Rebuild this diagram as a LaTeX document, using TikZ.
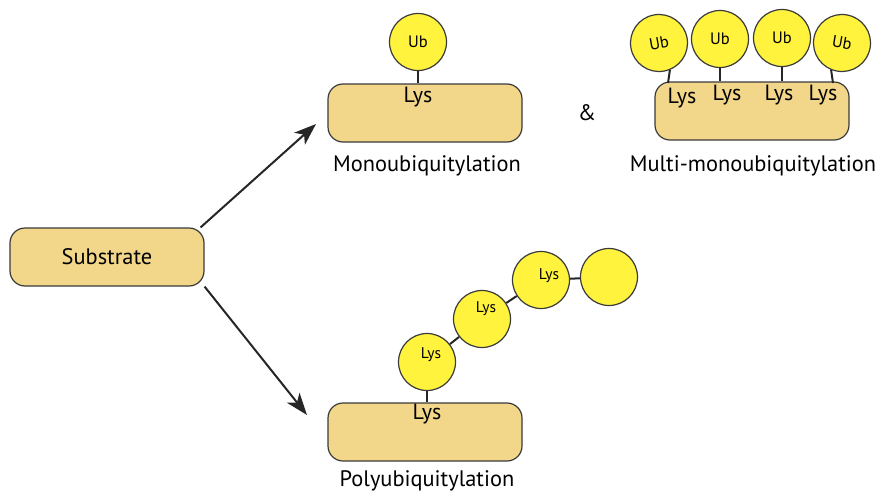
\documentclass[tikz,border=0pt]{standalone}
\usepackage{fontspec}
\setmainfont{PT Sans}
\usetikzlibrary{shapes,arrows.meta}
\definecolor{boxfill}{HTML}{F2D68A}
\definecolor{ubfill}{HTML}{FFF33D}
\definecolor{rim}{HTML}{3A3A3A}

\begin{document}
\begin{tikzpicture}[x=1pt,y=-1pt,
  box/.style={shape=rectangle,rounded corners=15pt,draw=rim,fill=boxfill,line width=1.2pt,minimum width=194pt,minimum height=58pt,inner sep=0pt,font=\fontsize{22.4}{26}\selectfont},
  ub/.style={shape=circle,draw=rim,fill=ubfill,line width=1.2pt,minimum size=57pt,inner sep=0pt,font=\fontsize{16.5}{19}\selectfont},
  lys/.style={inner sep=0pt,font=\fontsize{22}{26}\selectfont},
  lyssmall/.style={inner sep=0pt,font=\fontsize{15.5}{18}\selectfont},
  caption/.style={inner sep=0pt,font=\fontsize{22.4}{26}\selectfont},
  link/.style={-,draw=black!85,line width=2pt},
  react/.style={-{Stealth[length=22pt,width=16pt,inset=6pt]},draw=black!85,line width=2pt}]
\useasboundingbox (0,0) rectangle (877,495);
\node[box] (sub) at (107,257) {Substrate};
\node[box] (mono) at (425,113) {};
\node[box] (multi) at (752,111) {};
\node[box] (poly) at (425,432) {};

\node[ub] (ub) at (418,42) {Ub};
\node[ub,rotate=10] (u1) at (659,43) {Ub};
\node[ub] (u2) at (720,39) {Ub};
\node[ub] (u3) at (782,38) {Ub};
\node[ub,rotate=-10] (u4) at (842,43) {Ub};

\node[ub] (pa) at (427,362) {};
\node[ub] (pb) at (482,319) {};
\node[ub] (pc) at (541,280) {};
\node[ub] (pd) at (609,277) {};

\node[lys] (lm) at (418,97) {Lys};
\node[lys] (l1) at (682,98) {Lys};
\node[lys] (l2) at (727,95) {Lys};
\node[lys] (l3) at (779,95) {Lys};
\node[lys] (l4) at (823,95) {Lys};
\node[lys] (lp) at (427,414) {Lys};
\node[lyssmall] (la) at (431,355) {Lys};
\node[lyssmall] (lb) at (486,309) {Lys};
\node[lyssmall] (lc) at (549,276) {Lys};

\node[caption] (cmono) at (427,166) {Monoubiquitylation};
\node[caption] (cmulti) at (753,166) {Multi-monoubiquitylation};
\node[caption] (cpoly) at (427,481) {Polyubiquitylation};
\node[caption] (amp) at (587,113) {\&};

\coordinate (k1) at (668,83);
\coordinate (k4) at (833,83);
\coordinate (t1) at (316,124);
\coordinate (t2) at (307,415);

\path [link] (ub.south) edge (ub.south |- mono.north);
\path [link] (u1.-78) edge (k1);
\path [link] (u2.south) edge (u2.south |- multi.north);
\path [link] (u3.south) edge (u3.south |- multi.north);
\path [link] (u4.-102) edge (k4);
\path [link] (pa.south) edge (pa.south |- poly.north);
\path [link] (pa) edge (pb);
\path [link] (pb) edge (pc);
\path [link] (pc) edge (pd);

\draw [react] ([xshift=-4pt]sub.north east) -- (t1);
\draw [react] (sub.south east) -- (t2);
\end{tikzpicture}
\end{document}
